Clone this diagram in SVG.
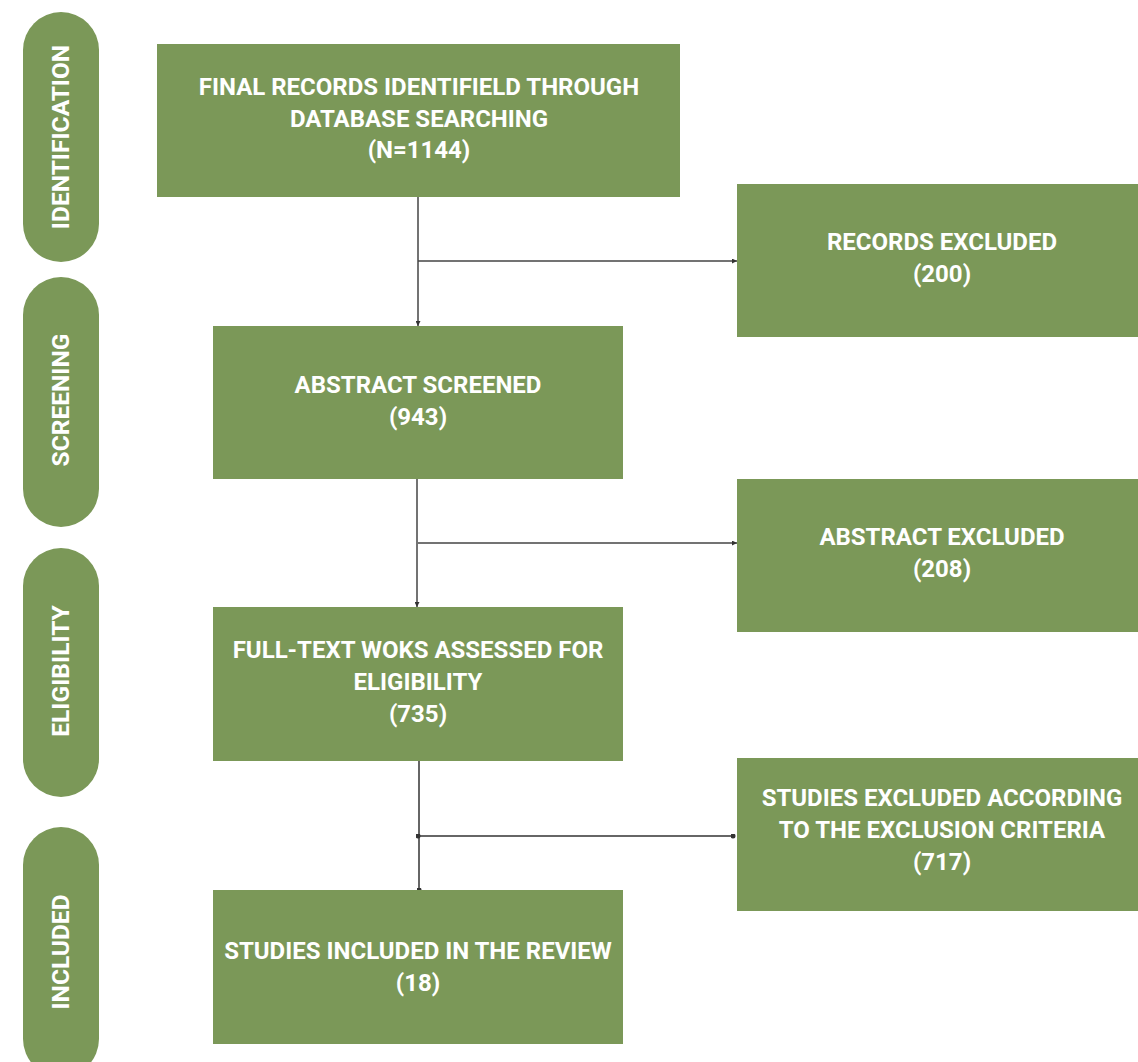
<svg xmlns="http://www.w3.org/2000/svg" width="1138" height="1062" viewBox="0 0 1138 1062">
<defs>
<style>
.box{fill:#7B9858;}
.t{font-family:Roboto,"Liberation Sans",sans-serif;font-weight:bold;font-size:24px;fill:#ffffff;text-anchor:middle;}
.p{font-family:Roboto,"Liberation Sans",sans-serif;font-weight:bold;font-size:24.5px;fill:#ffffff;text-anchor:middle;}
.c{stroke:#444;stroke-width:1.5;fill:none;}
.c2{stroke:#666;stroke-width:2;fill:none;}
</style>
<marker id="ah" viewBox="0 0 6 6" refX="6" refY="3" markerWidth="5" markerHeight="5" orient="auto" markerUnits="userSpaceOnUse">
<path d="M0,0 L6,3 L0,6 z" fill="#333"/>
</marker>
<marker id="dot" viewBox="0 0 6 6" refX="3" refY="3" markerWidth="5" markerHeight="5" markerUnits="userSpaceOnUse">
<circle cx="3" cy="3" r="3" fill="#333"/>
</marker>
</defs>
<rect width="1138" height="1062" fill="#ffffff"/>
<g id="pill-identification"><rect class="box" x="23" y="12" width="76" height="250" rx="38"/><text class="p" transform="translate(69,137) rotate(-90)">IDENTIFICATION</text></g>
<g id="pill-screening"><rect class="box" x="23" y="277" width="76" height="250" rx="38"/><text class="p" transform="translate(69,400) rotate(-90)">SCREENING</text></g>
<g id="pill-eligibility"><rect class="box" x="23" y="548" width="76" height="249" rx="38"/><text class="p" transform="translate(69,671) rotate(-90)">ELIGIBILITY</text></g>
<g id="pill-included"><rect class="box" x="23" y="827" width="76" height="250" rx="38"/><text class="p" transform="translate(69,952) rotate(-90)">INCLUDED</text></g>

<g id="connectors">
<line class="c" x1="418" y1="197" x2="418" y2="326" marker-end="url(#ah)"/>
<line class="c" x1="418" y1="261" x2="737" y2="261" marker-end="url(#ah)"/>
<line class="c" x1="417" y1="479" x2="417" y2="607" marker-end="url(#ah)"/>
<line class="c" x1="418" y1="543" x2="737" y2="543" marker-end="url(#ah)"/>
<line class="c2" x1="419" y1="761" x2="419" y2="890" marker-end="url(#dot)"/>
<line class="c2" x1="418" y1="836" x2="733" y2="836" marker-start="url(#dot)" marker-end="url(#dot)"/>
</g>

<g id="n1"><rect class="box" x="157" y="44" width="523" height="153"/>
<text class="t" x="419" y="95">FINAL RECORDS IDENTIFIELD THROUGH</text>
<text class="t" x="419" y="127">DATABASE SEARCHING</text>
<text class="t" x="419" y="158">(N=1144)</text></g>

<g id="n2"><rect class="box" x="737" y="184" width="410" height="153"/>
<text class="t" x="942" y="250">RECORDS EXCLUDED</text>
<text class="t" x="942" y="282">(200)</text></g>

<g id="n3"><rect class="box" x="213" y="326" width="410" height="153"/>
<text class="t" x="418" y="393">ABSTRACT SCREENED</text>
<text class="t" x="418" y="425">(943)</text></g>

<g id="n4"><rect class="box" x="737" y="479" width="410" height="153"/>
<text class="t" x="942" y="545">ABSTRACT EXCLUDED</text>
<text class="t" x="942" y="577">(208)</text></g>

<g id="n5"><rect class="box" x="213" y="607" width="410" height="154"/>
<text class="t" x="418" y="658">FULL-TEXT WOKS ASSESSED FOR</text>
<text class="t" x="418" y="690">ELIGIBILITY</text>
<text class="t" x="418" y="722">(735)</text></g>

<g id="n6"><rect class="box" x="737" y="758" width="410" height="153"/>
<text class="t" x="942" y="806">STUDIES EXCLUDED ACCORDING</text>
<text class="t" x="942" y="838">TO THE EXCLUSION CRITERIA</text>
<text class="t" x="942" y="870">(717)</text></g>

<g id="n7"><rect class="box" x="213" y="890" width="410" height="154"/>
<text class="t" x="418" y="959">STUDIES INCLUDED IN THE REVIEW</text>
<text class="t" x="418" y="991">(18)</text></g>
</svg>
